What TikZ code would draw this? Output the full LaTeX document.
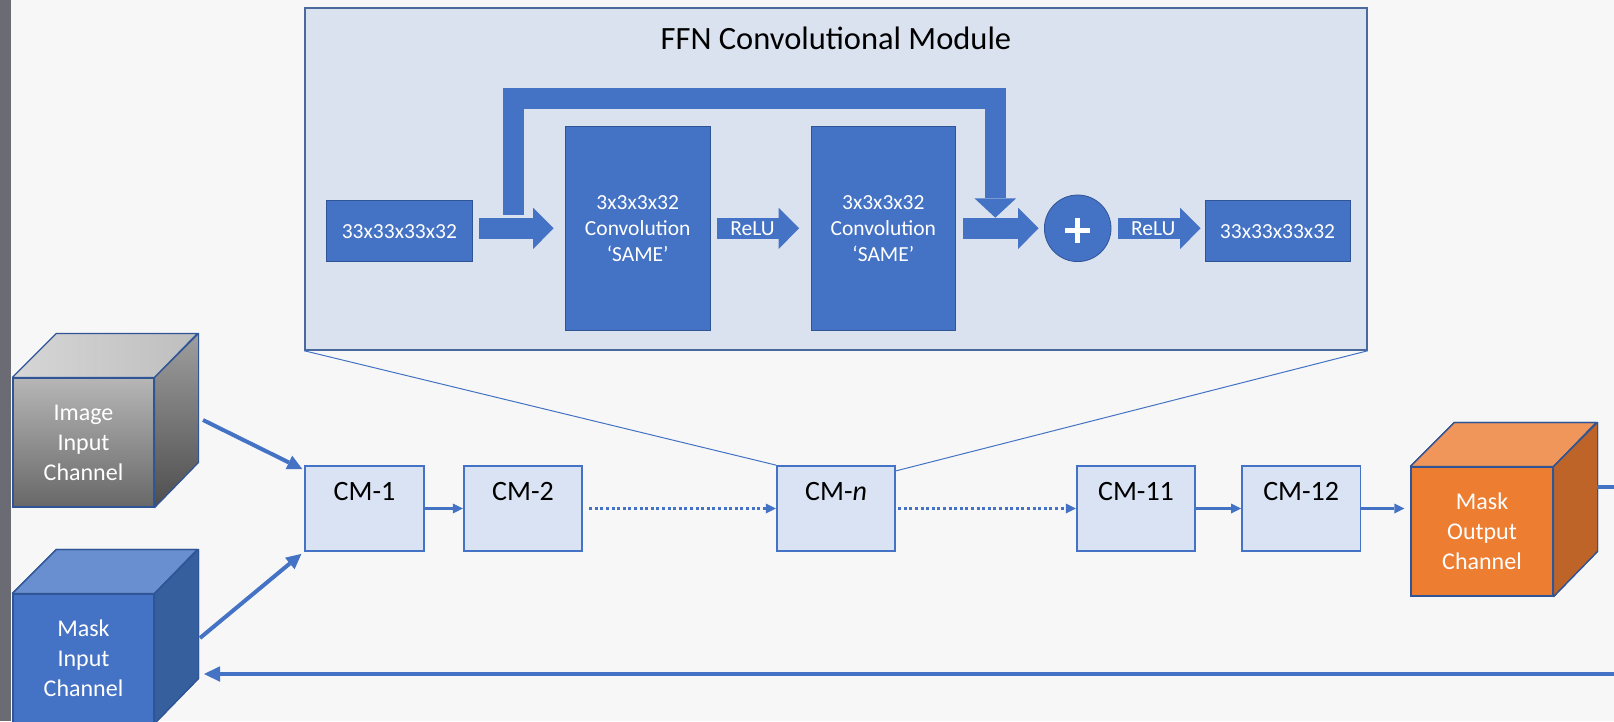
\documentclass[tikz,border=0pt]{standalone}
\usepackage{fontspec}
\setmainfont{Carlito}
\usetikzlibrary{arrows.meta,calc}
\definecolor{bgc}{HTML}{F7F7F7}
\definecolor{stripc}{HTML}{6B6B73}
\definecolor{panelc}{HTML}{DAE2EF}
\definecolor{pborder}{HTML}{4A6A9E}
\definecolor{blu}{HTML}{4472C4}
\definecolor{bluedge}{HTML}{2F5597}
\definecolor{blutop}{HTML}{6A8FD0}
\definecolor{bluside}{HTML}{365F9E}
\definecolor{org}{HTML}{ED7D31}
\definecolor{orgtop}{HTML}{F0965A}
\definecolor{orgside}{HTML}{BE6428}
\definecolor{cmfill}{HTML}{DAE3F3}
\definecolor{imgtop}{HTML}{B6B6B6}
\definecolor{imgbot}{HTML}{686868}
\definecolor{imgtopL}{HTML}{D6D6D6}
\definecolor{imgtopR}{HTML}{BEBEBE}
\definecolor{imgsideT}{HTML}{9E9E9E}
\definecolor{imgsideB}{HTML}{4E4E4E}
\tikzset{
  panelbox/.style={fill=panelc, draw=pborder, line width=1.5pt, inner sep=0pt},
  bluebox/.style={fill=blu, draw=bluedge, line width=0.8pt, text=white, align=center,
    font=\fontsize{21.5}{25.8}\selectfont, inner sep=0pt},
  relu/.style={text=white, font=\fontsize{21.5}{25.8}\selectfont, inner sep=0pt},
  cmbox/.style={fill=cmfill, draw=blu, line width=1.8pt, minimum width=118.5pt,
    text height=34.7pt, text depth=50.3pt, font=\fontsize{28}{33}\selectfont, inner sep=0pt},
  blockarrow/.style={draw=blu, line width=21.3pt,
    -{Triangle[length=20.5pt,width=41.3pt,line width=0pt]}},
  thinarrow/.style={draw=blu, line width=3.3pt,
    -{Triangle[length=10pt,width=10pt,line width=0pt]}},
  dotarrow/.style={thinarrow, line width=3.5pt, dash pattern=on 3pt off 2.6pt},
  cubearrow/.style={draw=blu, line width=4pt,
    -{Triangle[length=15pt,width=15pt,line width=0pt]}},
  fbline/.style={draw=blu, line width=4.7pt,
    -{Triangle[length=16pt,width=15.5pt,line width=0pt]}},
  zoomline/.style={draw=blu, line width=1pt},
  cubefront/.style={minimum width=141pt, minimum height=129pt, draw=bluedge,
    line width=1.2pt, text=white, align=center, inner sep=0pt,
    font=\fontsize{24}{30}\selectfont},
  cubeface/.style={draw=bluedge, line width=1.2pt, line join=round}
}
\begin{document}
\begin{tikzpicture}[x=1pt,y=-1pt]
\useasboundingbox (0,0) rectangle (1614,721);
\clip (0,0) rectangle (1614,721);
\fill[bgc] (0,0) rectangle (1614,721);
\fill[stripc] (0,0) rectangle (11,721);

% ---------- FFN panel ----------
\node[panelbox, minimum width=1062pt, minimum height=342pt] (panel) at (836,179) {};
\node[font=\fontsize{32.5}{39}\selectfont, text=black, inner sep=0pt] (title) at (836,38) {FFN Convolutional Module};

\node[bluebox, minimum width=145.6pt, minimum height=61pt] (in) at (399.4,231.2) {33x33x33x32};
\node[bluebox, minimum width=144.6pt, minimum height=204.7pt] (conv1) at (637.7,228.3) {3x3x3x32\\Convolution\\‘SAME’};
\node[bluebox, minimum width=144.6pt, minimum height=204.7pt] (conv2) at (883.3,228.3) {3x3x3x32\\Convolution\\‘SAME’};
\node[bluebox, circle, minimum size=66.6pt] (plus) at (1077.7,228.3) {};
\node[bluebox, minimum width=145pt, minimum height=61pt] (out) at (1277.5,231.2) {33x33x33x32};
\draw[white, line width=4.5pt] ($(plus.center)+(-12.5,2)$) -- ($(plus.center)+(12.5,2)$);
\draw[white, line width=4.5pt] ($(plus.center)+(0,-10.5)$) -- ($(plus.center)+(0,14.5)$);

\draw[blockarrow, shorten <=6.8pt, shorten >=11.4pt] (in.east |- conv1.west) -- (conv1.west);
\draw[blockarrow, shorten <=7pt, shorten >=11.5pt] (conv1.east) -- node[pos=0.42, relu] {ReLU} (conv2.west);
\draw[blockarrow, shorten <=7.1pt, shorten >=5.4pt] (conv2.east) -- (plus.west);
\draw[blockarrow, shorten <=7pt, shorten >=4pt] (plus.east) -- node[pos=0.45, relu] {ReLU} (out.west |- plus.east);

\coordinate (skipA) at (513.5,214.5);
\coordinate (skipB) at (995.3,217.7);
\draw[blockarrow, line width=21pt, -{Triangle[length=19.4pt,width=41.7pt,line width=0pt]}]
  (skipA) |- (995.3,98.8) -- (skipB);

% ---------- CM row ----------
\node[cmbox] (cm1) at (364.5,508.5) {CM-1};
\node[cmbox] (cm2) at (523,508.5) {CM-2};
\node[cmbox] (cmn) at (836.1,508.5) {CM-\textit{n}};
\node[cmbox] (cm11) at (1136,508.5) {CM-11};
\node[cmbox] (cm12) at (1301.2,508.5) {CM-12};

\draw[zoomline] (panel.south west) -- (cmn.north west);
\draw[zoomline] (panel.south east) -- ($(cmn.north east)+(0,5.7)$);

% ---------- cubes ----------
\node[cubefront, top color=imgtop, bottom color=imgbot] (imgcube) at (83.5,442.5) {Image\\Input\\Channel};
\shade[cubeface, left color=imgtopL, right color=imgtopR] (imgcube.north west) -- ++(44,-44) -- ++(141,0) -- (imgcube.north east) -- cycle;
\shade[cubeface, top color=imgsideT, bottom color=imgsideB] (imgcube.north east) -- ++(44,-44) -- ++(0,129) -- (imgcube.south east) -- cycle;

\node[cubefront, fill=blu] (maskcube) at (83.5,658.5) {Mask\\Input\\Channel};
\fill[cubeface, fill=blutop] (maskcube.north west) -- ++(44,-44) -- ++(141,0) -- (maskcube.north east) -- cycle;
\fill[cubeface, fill=bluside] (maskcube.north east) -- ++(44,-44) -- ++(0,129) -- (maskcube.south east) -- cycle;
\draw[cubeface] (maskcube.north west) -- ++(44,-44) -- ++(141,0) -- (maskcube.north east);
\draw[cubeface] (maskcube.north east) ++(44,-44) -- ++(0,129) -- (maskcube.south east);

\node[cubefront, fill=org, minimum width=142pt] (outcube) at (1482,531.5) {Mask\\Output\\Channel};
\fill[cubeface, fill=orgtop] (outcube.north west) -- ++(44,-44) -- ++(142,0) -- (outcube.north east) -- cycle;
\fill[cubeface, fill=orgside] (outcube.north east) -- ++(44,-44) -- ++(0,129) -- (outcube.south east) -- cycle;
\draw[cubeface] (outcube.north west) -- ++(44,-44) -- ++(142,0) -- (outcube.north east);
\draw[cubeface] (outcube.north east) ++(44,-44) -- ++(0,129) -- (outcube.south east);

% ---------- connectors ----------
\draw[thinarrow] (cm1) -- (cm2);
\draw[dotarrow, shorten <=6pt] (cm2) -- (cmn);
\draw[dotarrow, shorten <=2pt] (cmn) -- (cm11);
\draw[thinarrow] (cm11) -- (cm12);
\draw[thinarrow, shorten >=6pt] (cm12.east) -- (outcube.west |- cm12.east);

\coordinate (ia) at (203,420);
\coordinate (ma) at (200,638);
\draw[cubearrow] (ia) -- ($(cm1.north west)+(-2,4)$);
\draw[cubearrow] (ma) -- ($(cm1.south west)+(-3,2)$);

\coordinate (fbA) at (1597,487);
\coordinate (fbR1) at (1640,487);
\coordinate (fbR2) at (1640,674);
\coordinate (fbEnd) at (204,674);
\draw[fbline] (fbA) -- (fbR1) -- (fbR2) -- (fbEnd);
\end{tikzpicture}
\end{document}
